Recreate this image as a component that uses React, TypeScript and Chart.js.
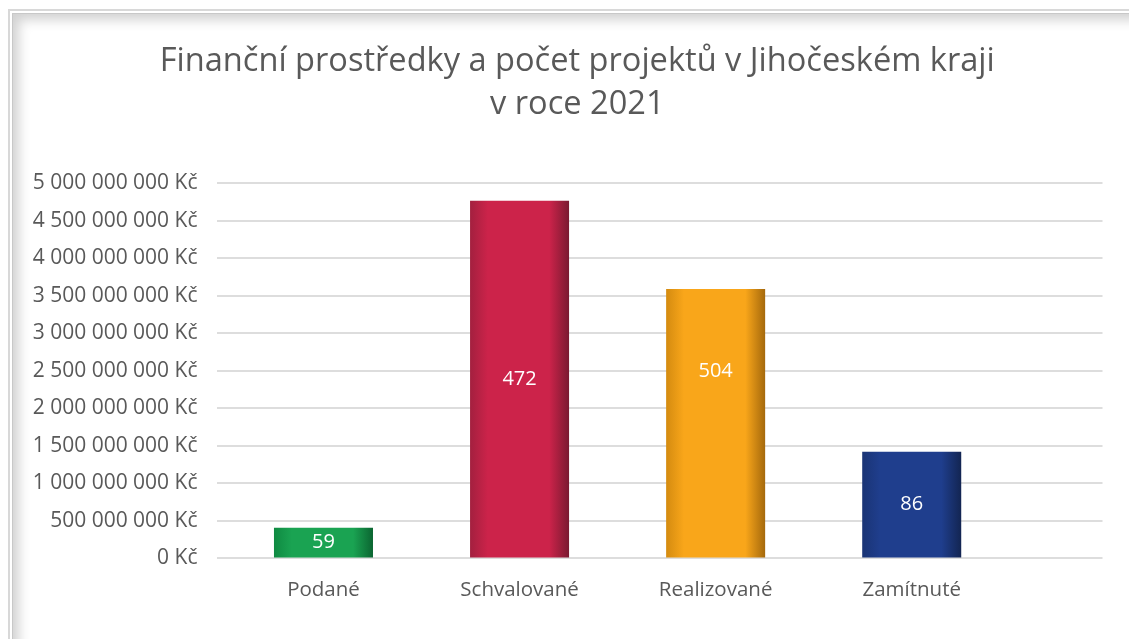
import React, { useEffect, useRef } from "react";
import { Chart, registerables } from "chart.js";

Chart.register(...registerables);

// ---- data ----
const titleLines = ["Finanční prostředky a počet projektů v Jihočeském kraji", "v roce 2021"];
const categories = ["Podané", "Schvalované", "Realizované", "Zamítnuté"];
const amounts = [408000000, 4768000000, 3591000000, 1421000000];
const projectCounts = [59, 472, 504, 86];
// value (in Kč, on the y scale) at which each count label sits; null = middle of bar
const labelAnchors: (number | null)[] = [null, null, 2500000000, null];
const yMin = 0;
const yMax = 5000000000;
const yStep = 500000000;

// gradient colours per bar: [left edge, centre, right edge]
const barColors: string[][] = [
  ["#0f8a42", "#1aa352", "#0b6531"],
  ["#a3203f", "#cc234a", "#7a1a31"],
  ["#d48b10", "#f9a61a", "#a5690c"],
  ["#1a3475", "#1f3e8d", "#132552"],
];

const CAT_PCT = 0.505;
const TEXT = "#595959";
const FONT = "'Open Sans', 'Noto Sans', sans-serif";
const CANVAS_W = 1129;
const TITLE_SHIFT = 26; // title is centred on the whole frame, not on the plot

function fmtKc(v: number): string {
  return String(Math.round(v)).replace(/\B(?=(\d{3})+(?!\d))/g, " ") + " Kč";
}

const countLabels = {
  id: "countLabels",
  afterLayout(chart: any) {
    const t = chart.titleBlock;
    if (t) {
      t.left += TITLE_SHIFT;
      t.right += TITLE_SHIFT;
    }
  },
  afterDatasetsDraw(chart: any) {
    const meta = chart.getDatasetMeta(0);
    const ys = chart.scales.y;
    const ctx = chart.ctx;
    ctx.save();
    ctx.fillStyle = "#ffffff";
    ctx.font = `20px ${FONT}`;
    ctx.textAlign = "center";
    ctx.textBaseline = "middle";
    meta.data.forEach((el: any, i: number) => {
      const anchor = labelAnchors[i];
      const y = anchor == null ? (el.y + el.base) / 2 : ys.getPixelForValue(anchor);
      ctx.fillText(String(projectCounts[i]), el.x, y);
    });
    ctx.restore();
  },
};

export default function App() {
  const ref = useRef<HTMLCanvasElement | null>(null);

  useEffect(() => {
    if (!ref.current) return;
    const chart = new Chart(ref.current, {
      type: "bar",
      data: {
        datasets: [
          {
            data: amounts.map((v, i) => ({ x: i, y: v })),
            categoryPercentage: CAT_PCT,
            barPercentage: 1,
            borderWidth: 0,
            backgroundColor: (c: any) => {
              const i = c.dataIndex ?? 0;
              const cols = barColors[i % barColors.length];
              const xs = c.chart.scales?.x;
              if (!xs || c.type !== "data") return cols[1];
              const cx = xs.getPixelForValue(i);
              const half = ((xs.getPixelForValue(1) - xs.getPixelForValue(0)) * CAT_PCT) / 2;
              if (!isFinite(cx) || !isFinite(half) || half <= 0) return cols[1];
              const g = c.chart.ctx.createLinearGradient(cx - half, 0, cx + half, 0);
              g.addColorStop(0, cols[0]);
              g.addColorStop(0.18, cols[1]);
              g.addColorStop(0.5, cols[1]);
              g.addColorStop(0.8, cols[1]);
              g.addColorStop(1, cols[2]);
              return g;
            },
          },
        ],
      },
      options: {
        responsive: false,
        animation: false,
        layout: { padding: { left: 0, right: CANVAS_W - 1102.5, top: 0, bottom: 26 } },
        plugins: {
          legend: { display: false },
          tooltip: { enabled: false },
          title: {
            display: true,
            text: titleLines,
            color: TEXT,
            font: { family: FONT, size: 32.6, weight: "normal", lineHeight: 1.33 },
            padding: { top: 39.9, bottom: 56.7 },
          },
        },
        scales: {
          x: {
            type: "linear",
            min: -0.5456,
            max: 3.973,
            offset: false,
            afterBuildTicks: (s: any) => {
              s.ticks = categories.map((_, i) => ({ value: i }));
            },
            ticks: {
              autoSkip: false,
              maxRotation: 0,
              padding: 11,
              color: TEXT,
              font: { family: FONT, size: 20.5 },
              callback: (v: any) => categories[v as number] ?? "",
            },
            grid: { display: false },
            border: { display: false },
          },
          y: {
            min: yMin,
            max: yMax,
            afterFit: (s: any) => {
              s.width = 216.5;
            },
            ticks: {
              stepSize: yStep,
              padding: 19,
              color: TEXT,
              font: { family: FONT, size: 21 },
              callback: (v: any) => fmtKc(Number(v)),
            },
            grid: { color: "#dddddd", lineWidth: 2, drawTicks: false },
            border: { display: false },
          },
        },
      },
      plugins: [countLabels],
    } as any);
    return () => chart.destroy();
  }, []);

  return (
    <div
      style={{
        position: "fixed",
        left: 0,
        top: 0,
        width: 1129,
        height: 639,
        background: "#ffffff",
        overflow: "hidden",
      }}
    >
      <div
        style={{
          position: "absolute",
          left: 8,
          top: 9,
          width: 1200,
          height: 700,
          borderTop: "2px solid #d8d8d8",
          borderLeft: "2px solid #d8d8d8",
        }}
      />
      <div
        style={{
          position: "absolute",
          left: 12,
          top: 13,
          width: 1160,
          height: 700,
          borderTop: "1px solid #c8c8c8",
          borderLeft: "1px solid #c8c8c8",
          boxShadow: "inset 10px 10px 12px -4px rgba(0,0,0,0.18)",
        }}
      />
      <canvas
        ref={ref}
        width={CANVAS_W}
        height={639}
        style={{ position: "absolute", left: 0, top: 0, width: CANVAS_W, height: 639 }}
      />
    </div>
  );
}
